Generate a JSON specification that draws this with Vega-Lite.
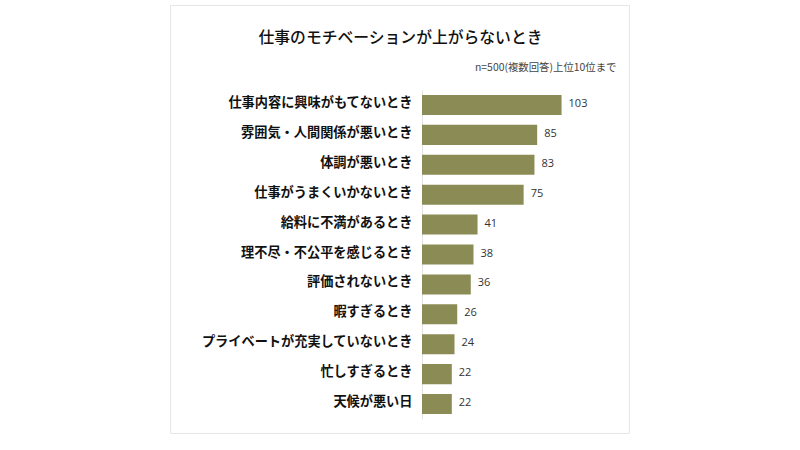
{
  "$schema": "https://vega.github.io/schema/vega-lite/v6.json",
  "width": 459,
  "height": 428,
  "padding": {"left": 170, "top": 5, "right": 20, "bottom": 16},
  "autosize": {"type": "none"},
  "background": "white",
  "view": {"stroke": "#e6e6e6", "strokeWidth": 1, "fill": "white"},
  "title": {
    "text": "仕事のモチベーションが上がらないとき",
    "font": "Noto Sans CJK JP",
    "fontSize": 15.8,
    "fontWeight": 500,
    "color": "#111111",
    "anchor": "middle",
    "frame": "group",
    "baseline": "middle",
    "offset": -49,
    "dx": 1
  },
  "data": {
    "values": [
      {"reason": "仕事内容に興味がもてないとき", "count": 103},
      {"reason": "雰囲気・人間関係が悪いとき", "count": 85},
      {"reason": "体調が悪いとき", "count": 83},
      {"reason": "仕事がうまくいかないとき", "count": 75},
      {"reason": "給料に不満があるとき", "count": 41},
      {"reason": "理不尽・不公平を感じるとき", "count": 38},
      {"reason": "評価されないとき", "count": 36},
      {"reason": "暇すぎるとき", "count": 26},
      {"reason": "プライベートが充実していないとき", "count": 24},
      {"reason": "忙しすぎるとき", "count": 22},
      {"reason": "天候が悪い日", "count": 22}
    ]
  },
  "encoding": {
    "y": {
      "field": "reason",
      "type": "nominal",
      "sort": null,
      "title": null,
      "scale": {"range": [85, 414], "paddingInner": 0.33, "paddingOuter": 0.165},
      "axis": {
        "offset": -252,
        "labelFont": "Noto Sans CJK JP",
        "labelFontSize": 13.2,
        "labelFontWeight": "bold",
        "labelColor": "#111111",
        "labelOffset": -2,
        "ticks": false,
        "domainColor": "#e2e2e2",
        "labelPadding": 10,
        "labelLimit": 300,
        "grid": false
      }
    },
    "x": {
      "field": "count",
      "type": "quantitative",
      "title": "n=500(複数回答)上位10位まで",
      "scale": {"domain": [0, 153.5], "nice": false, "range": [252, 460]},
      "axis": {
        "orient": "top",
        "domain": false,
        "ticks": false,
        "labels": false,
        "grid": false,
        "titleFont": "Noto Sans CJK JP",
        "titleFontSize": 10.4,
        "titleFontWeight": "normal",
        "titleColor": "#444444",
        "titleAlign": "right",
        "titleBaseline": "middle",
        "titleX": 446,
        "titleY": 62
      }
    }
  },
  "layer": [
    {"mark": {"type": "bar", "color": "#8b8c55"}},
    {"mark": {"type": "text", "align": "left", "dx": 7, "dy": -1, "font": "Open Sans", "fontSize": 11, "color": "#333333"}, "encoding": {"text": {"field": "count", "type": "quantitative"}}}
  ]
}
